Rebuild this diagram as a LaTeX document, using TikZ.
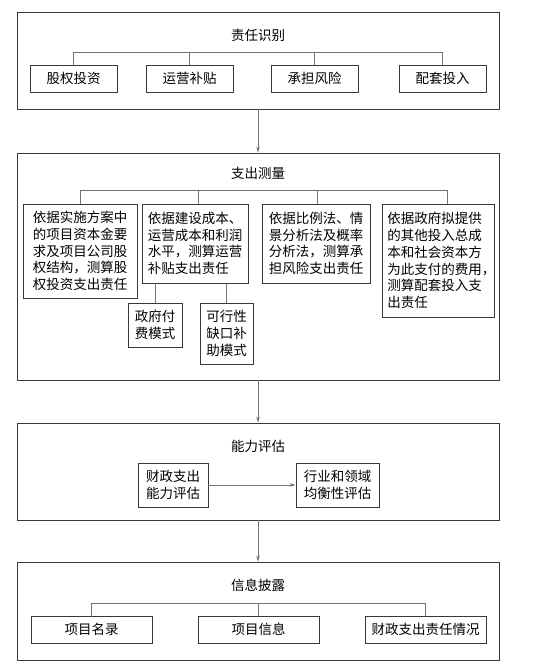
\documentclass[tikz,border=0pt]{standalone}
\usepackage{fontspec}
\newfontfamily\cjk{Noto Sans CJK SC}
\usetikzlibrary{arrows.meta}

\definecolor{framegray}{gray}{0.22}
\definecolor{linkgray}{gray}{0.45}

\begin{document}
\begin{tikzpicture}[x=1pt,y=-1pt,
  font={\cjk\fontsize{13.5}{16.7}\selectfont},
  stage/.style={draw=framegray, line width=0.8pt, inner sep=0pt},
  item/.style={draw=framegray, line width=0.8pt, inner sep=0pt, align=left},
  link/.style={draw=linkgray, line width=0.6pt},
  flow/.style={link, -{Stealth[length=6pt,width=3.5pt]}}]

\useasboundingbox (0,0) rectangle (553,671);

% The four stages (outer frames), centred on x = 258
\node[stage, minimum width=482, minimum height=97]  (ident)   at (258,60.5)  {};
\node[stage, minimum width=482, minimum height=227] (measure) at (258,266.5) {};
\node[stage, minimum width=482, minimum height=97]  (assess)  at (258,471.5) {};
\node[stage, minimum width=482, minimum height=98]  (publish) at (258,611)   {};

% Titles of the stages
\node (identT)   at (258,35)  {责任识别};
\node (measureT) at (258,173) {支出测量};
\node (assessT)  at (258,446) {能力评估};
\node (publishT) at (258,585) {信息披露};

% Stage 1: kinds of responsibility
\node[item, minimum width=87, minimum height=27] (equity)  at (73.5,78.5)  {股权投资};
\node[item, minimum width=87, minimum height=27] (subsidy) at (189.5,78.5) {运营补贴};
\node[item, minimum width=87, minimum height=27] (risk)    at (314.5,78.5) {承担风险};
\node[item, minimum width=87, minimum height=27] (support) at (442.5,78.5) {配套投入};

% Stage 2: how each is measured
\node[item, minimum width=114, minimum height=94] (equityM) at (80,251)
  {依据实施方案中\\的项目资本金要\\求及项目公司股\\权结构，测算股\\权投资支出责任};
\node[item, minimum width=106, minimum height=79] (subsidyM) at (195,243.5)
  {依据建设成本、\\运营成本和利润\\水平，测算运营\\补贴支出责任};
\node[item, minimum width=108, minimum height=79] (riskM) at (316,243.5)
  {依据比例法、情\\景分析法及概率\\分析法，测算承\\担风险支出责任};
\node[item, minimum width=112, minimum height=113] (supportM) at (438,260.5)
  {依据政府拟提供\\的其他投入总成\\本和社会资本方\\为此支付的费用{\addfontfeature{RawFeature=+halt}，}\\测算配套投入支\\出责任};
\node[item, minimum width=54, minimum height=44] (govPay) at (155,325)
  {政府付\\费模式};
\node[item, minimum width=53, minimum height=61] (gapFill) at (226.5,333.5)
  {可行性\\缺口补\\助模式};

% Stage 3: capacity assessment
\node[item, minimum width=70, minimum height=44] (fiscal) at (173,485)
  {财政支出\\能力评估};
\node[item, minimum width=83, minimum height=44] (balance) at (337.5,485)
  {行业和领域\\均衡性评估};

% Stage 4: what is disclosed
\node[item, minimum width=121, minimum height=27] (list)   at (91.5,629.5)  {项目名录};
\node[item, minimum width=121, minimum height=27] (info)   at (258.5,629.5) {项目信息};
\node[item, minimum width=121, minimum height=27] (duty)   at (425.5,629.5) {财政支出责任情况};

% Branch bars
\coordinate (identBar)   at (258,52);
\coordinate (measureBar) at (258,190);
\coordinate (publishBar) at (258,603);

\draw[link] (equity.north) -- (equity.north |- identBar)
            -- (support.north |- identBar) -- (support.north);
\foreach \n in {subsidy,risk}
  \draw[link] (\n.north) -- (\n.north |- identBar);

\draw[link] (equityM.north) -- (equityM.north |- measureBar)
            -- ([xshift=9pt]supportM.north |- measureBar)
            -- ([xshift=9pt]supportM.north);
\draw[link] ([xshift=3pt]subsidyM.north) -- ([xshift=3pt]subsidyM.north |- measureBar);
\draw[link] ([xshift=1pt]riskM.north) -- ([xshift=1pt]riskM.north |- measureBar);

% Payment modes hang below the subsidy box
\draw[link] (subsidyM.south -| govPay.north) -- (govPay.north);
\draw[link] (subsidyM.south -| gapFill.north) -- (gapFill.north);

\draw[link] (list.north) -- (list.north |- publishBar)
            -- (duty.north |- publishBar) -- (duty.north);
\draw[link] (info.north) -- (info.north |- publishBar);

% Flow between the stages
\draw[flow] (ident.south)   -- (measure.north);
\draw[flow] (measure.south) -- (assess.north);
\draw[flow] (assess.south)  -- (publish.north);
\draw[flow] (fiscal.east)   -- (balance.west);

\end{tikzpicture}
\end{document}
